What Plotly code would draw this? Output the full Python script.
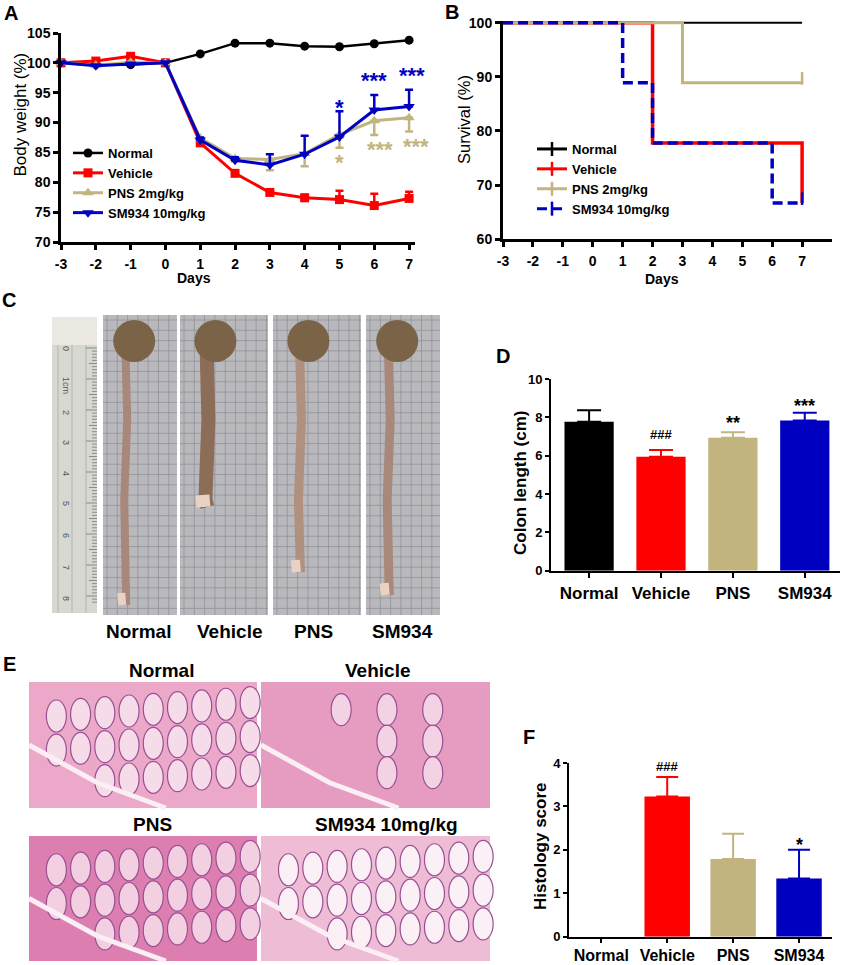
import plotly.graph_objects as go

W, H = 844, 965
def px(x): return x / W
def py(y): return 1 - y / H

FONT = "Arial, Liberation Sans, sans-serif"

# ---------------- Panel A data: body weight ----------------
days = [-3, -2, -1, 0, 1, 2, 3, 4, 5, 6, 7]
day_labels = ["-3", "-2", "-1", "0", "1", "2", "3", "4", "5", "6", "7"]
bw_normal = [100, 99.7, 99.7, 100, 101.5, 103.3, 103.3, 102.8, 102.7, 103.2, 103.8]
bw_vehicle = [100, 100.3, 101.1, 100, 86.6, 81.5, 78.3, 77.4, 77.1, 76.1, 77.3]
bw_vehicle_err = [0, 0, 0, 0, 0.4, 0.4, 0.4, 0.5, 1.5, 2.0, 1.1]
bw_pns = [100, 99.6, 100.1, 100, 87.4, 84.0, 83.8, 84.8, 88.0, 90.3, 90.8]
bw_pns_err = [0, 0, 0, 0, 0.4, 0.5, 1.8, 2.1, 2.2, 2.4, 2.3]
bw_sm = [100, 99.5, 99.8, 100, 87.1, 83.7, 82.9, 84.7, 87.6, 92.1, 92.7]
bw_sm_err = [0, 0, 0, 0, 0.4, 0.5, 1.8, 3.1, 4.3, 2.5, 2.8]

star_sm_days = [5, 6, 7]
star_sm_y = [93.3, 97.9, 98.8]
star_sm_text = ["*", "***", "***"]
star_pns_days = [5, 6, 7]
star_pns_y = [84.2, 86.4, 86.9]
star_pns_text = ["*", "***", "***"]

# ---------------- Panel B data: survival ----------------
surv_normal_x = [-3, 7]
surv_normal_y = [100, 100]
surv_vehicle_x = [-3, 2, 7]
surv_vehicle_y = [100, 77.8, 66.7]
surv_pns_x = [-3, 3, 7]
surv_pns_y = [100, 88.9, 88.9]
surv_sm_x = [-3, 1, 2, 6, 7]
surv_sm_y = [100, 88.9, 77.8, 66.7, 66.7]

# ---------------- Panel D / F data ----------------
groups = ["Normal", "Vehicle", "PNS", "SM934"]
colon_len = [7.77, 5.95, 6.94, 7.83]
colon_err = [0.6, 0.35, 0.28, 0.41]
colon_sig = ["", "###", "**", "***"]
colon_sig_y = [None, 7.08, 7.9, 8.82]

hist_score = [0, 3.23, 1.79, 1.34]
hist_err = [0, 0.45, 0.58, 0.66]
hist_sig = ["", "###", "", "*"]
hist_sig_y = [None, 3.92, None, 2.21]

series_names = ["Normal", "Vehicle", "PNS 2mg/kg", "SM934 10mg/kg"]
colors = ["#000000", "#ff0000", "#c2b47e", "#0000c0"]

fig = go.Figure()

# ---------- Panel A traces ----------
bw_series = [bw_normal, bw_vehicle, bw_pns, bw_sm]
bw_err_up = [None, bw_vehicle_err, None, bw_sm_err]
bw_err_dn = [None, None, bw_pns_err, None]
symbols = ["circle", "square", "triangle-up", "triangle-down"]
sizes = [9, 9, 10, 10]
for i in range(4):
    err = None
    if bw_err_up[i] is not None:
        err = dict(type="data", symmetric=False, array=bw_err_up[i],
                   arrayminus=[0] * len(days), color=colors[i], thickness=2.5, width=4)
    elif bw_err_dn[i] is not None:
        err = dict(type="data", symmetric=False, array=[0] * len(days),
                   arrayminus=bw_err_dn[i], color=colors[i], thickness=2.5, width=4)
    fig.add_trace(go.Scatter(
        x=days, y=bw_series[i], name=series_names[i], mode="lines+markers",
        line=dict(color=colors[i], width=3 if i else 2.5),
        marker=dict(symbol=symbols[i], size=sizes[i], color=colors[i]),
        error_y=err, cliponaxis=False, xaxis="x", yaxis="y", legend="legend"))

# ---------- Panel B traces ----------
surv = [(surv_normal_x, surv_normal_y), (surv_vehicle_x, surv_vehicle_y),
        (surv_pns_x, surv_pns_y), (surv_sm_x, surv_sm_y)]
widths_b = [2, 3.5, 3, 3.5]
dashes_b = ["solid", "solid", "solid", "10px,5px"]
for i, (sx, sy) in enumerate(surv):
    fig.add_trace(go.Scatter(
        x=sx, y=sy, mode="lines", line=dict(color=colors[i], width=widths_b[i],
                                            dash=dashes_b[i], shape="hv"),
        showlegend=False, xaxis="x2", yaxis="y2"))
# censor ticks
for i in [0, 2, 3]:
    sx, sy = surv[i]
    fig.add_trace(go.Scatter(
        x=[sx[-1]], y=[sy[-1] + 0.8], mode="markers",
        marker=dict(symbol="line-ns-open", size=9, color=colors[i],
                    line=dict(width=2.5, color=colors[i])),
        cliponaxis=False, showlegend=False, xaxis="x2", yaxis="y2"))
# legend entries for B
for i in range(4):
    fig.add_trace(go.Scatter(
        x=[None], y=[None], name=series_names[i], mode="lines+markers",
        line=dict(color=colors[i], width=3, dash=dashes_b[i]),
        marker=dict(symbol="line-ns-open", size=10, color=colors[i],
                    line=dict(width=2.5, color=colors[i])),
        xaxis="x2", yaxis="y2", legend="legend2"))

# ---------- Panel D / F bars ----------
for i, g in enumerate(groups):
    fig.add_trace(go.Bar(
        x=[g], y=[colon_len[i]], width=0.685, marker=dict(color=colors[i], line=dict(width=0)),
        error_y=dict(type="data", symmetric=False, array=[colon_err[i]], arrayminus=[0],
                     color=colors[i], thickness=2, width=12, visible=colon_err[i] > 0),
        showlegend=False, xaxis="x3", yaxis="y3"))
    fig.add_trace(go.Bar(
        x=[g], y=[hist_score[i]], width=0.69, marker=dict(color=colors[i], line=dict(width=0)),
        error_y=dict(type="data", symmetric=False, array=[hist_err[i]], arrayminus=[0],
                     color=colors[i], thickness=2, width=11, visible=hist_err[i] > 0),
        showlegend=False, xaxis="x4", yaxis="y4"))

annotations = []

def ann(x, y, text, size, bold=True, color="black", angle=0, xref="paper", yref="paper",
        xshift=0, yshift=0):
    annotations.append(dict(
        x=x, y=y, xref=xref, yref=yref, text=text, showarrow=False, textangle=angle,
        xanchor="center", yanchor="middle", xshift=xshift, yshift=yshift,
        font=dict(family=FONT, size=size, color=color, weight="bold" if bold else "normal")))

# significance stars in A
sm_xshift = [0, 0, 3]
pns_xshift = [0, 6, 7]
for d, yv, t, s in zip(star_sm_days, star_sm_y, star_sm_text, sm_xshift):
    ann(d, yv, t, 22, color=colors[3], xref="x", yref="y", xshift=s, yshift=-5)
for d, yv, t, s in zip(star_pns_days, star_pns_y, star_pns_text, pns_xshift):
    ann(d, yv, t, 22, color=colors[2], xref="x", yref="y", xshift=s, yshift=-5)

for g, t, yv in zip(groups, colon_sig, colon_sig_y):
    if t:
        ann(g, yv, t, 13 if "#" in t else 18, xref="x3", yref="y3",
            yshift=0 if "#" in t else -4)
for g, t, yv in zip(groups, hist_sig, hist_sig_y):
    if t:
        ann(g, yv, t, 13 if "#" in t else 18, xref="x4", yref="y4",
            yshift=0 if "#" in t else -4)

# axis titles
ann(px(20), py(114.5), "Body weight (%)", 17, bold=False, angle=-90)
ann(px(193.7), py(278), "Days", 14)
ann(px(464), py(120), "Survival (%)", 16.5, bold=False, angle=-90)
ann(px(661.7), py(279), "Days", 14)
ann(px(520), py(483), "Colon length (cm)", 17, angle=-90)
ann(px(540), py(846), "Histology score", 17, angle=-90)

# panel letters
for letter, (lx, ly) in {"A": (10.5, 13.5), "B": (452, 11.7), "C": (8.5, 300),
                         "D": (502.5, 355.5), "E": (9, 664), "F": (529, 736.5)}.items():
    ann(px(lx), py(ly), letter, 20)

# photo labels
for t, (lx, ly) in [("Normal", (138, 631)), ("Vehicle", (230, 631)), ("PNS", (313, 631)),
                    ("SM934", (402, 631)), ("Normal", (161, 670)), ("Vehicle", (378, 670)),
                    ("PNS", (152, 824)), ("SM934 10mg/kg", (386, 824))]:
    ann(px(lx), py(ly), t, 19)

# ruler numbers
for t, ry in [("0", 348), ("1cm", 385), ("2", 412), ("3", 442), ("4", 473), ("5", 503),
              ("6", 535), ("7", 567), ("8", 598)]:
    ann(px(66), py(ry), t, 9, bold=False, color="#555555", angle=90)

# ---------- photo placeholder shapes ----------
shapes = []
def rect(x0, y0, x1, y1, fill, line=None):
    shapes.append(dict(type="rect", xref="paper", yref="paper", x0=px(x0), x1=px(x1),
                       y0=py(y1), y1=py(y0), fillcolor=fill,
                       line=dict(width=0) if line is None else line, layer="above"))

def path(d_pts, color, width, fill=None):
    shapes.append(dict(type="path", xref="paper", yref="paper", path=d_pts,
                       line=dict(color=color, width=width),
                       fillcolor=fill if fill else "rgba(0,0,0,0)", layer="above"))

def P(x, y):
    return f"{px(x):.5f},{py(y):.5f}"

# ruler
rect(52, 317, 97, 613, "#d8d8d2")
rect(52, 317, 97, 345, "#ebe8e1")
segs = []
k = 0
yy = 348.0
while yy <= 604:
    ln = 11 if k % 10 == 0 else (8 if k % 5 == 0 else 5)
    segs.append(f"M{P(97 - ln, yy)} L{P(97, yy)}")
    yy += 3.1
    k += 1
path(" ".join(segs), "#555555", 0.6)
segs = []
for gx in [58, 72, 86]:
    segs.append(f"M{P(gx, 345)} L{P(gx, 613)}")
path(" ".join(segs), "#9a9a9a", 0.6)

# colon photos
colon_panels = [(103, 177, 605, 8, "#a8887a"), (180, 268, 507, 14, "#8c6e58"),
                (273, 361, 572, 9, "#b0907e"), (366, 440, 595, 9, "#a8887a")]
for x0, x1, bottom, tw, tube in colon_panels:
    rect(x0, 315, x1, 615, "#b9b9bd")
    segs = []
    gx = x0 + 4
    while gx < x1:
        segs.append(f"M{P(gx, 315)} L{P(gx, 615)}")
        gx += 10.3
    gy = 320
    while gy < 615:
        segs.append(f"M{P(x0, gy)} L{P(x1, gy)}")
        gy += 10.3
    path(" ".join(segs), "#8d8d95", 0.7)
    cx = x0 + 0.3 * (x1 - x0)
    path(f"M{P(cx, 340)} L{P(cx + 2, 420)} L{P(cx - 1, 500)} L{P(cx + 1, bottom)}", tube, tw)
    path(f"M{P(cx - 4, bottom - 12)} L{P(cx - 3, bottom)}", "#e8d2c4", tw)
    shapes.append(dict(type="circle", xref="paper", yref="paper",
                       x0=px(cx - 12), x1=px(cx + 30), y0=py(362), y1=py(320),
                       fillcolor="#7a6346", line=dict(width=0), layer="above"))

# histology photos
hist_panels = [(29, 257, 682, 808, "#eba8c9", "#f6dbe9", 9),
               (261, 490, 682, 808, "#e59cc0", "#f3d3e3", 3),
               (29, 257, 836, 961, "#dc7fb0", "#f2cfe1", 9),
               (261, 490, 836, 961, "#efbcd6", "#fbf0f5", 9)]
for x0, x1, y0, y1, base, inner, ncol in hist_panels:
    rect(x0, y0, x1, y1, base)
    w = x1 - x0
    h = y1 - y0
    for r in range(3):
        for c in range(ncol):
            if ncol == 3:
                cxp = x0 + 0.35 * w + c * 0.2 * w
                cyp = y0 + 0.22 * h + r * 0.25 * h
                if r > 0 and c == 0:
                    continue
            else:
                cxp = x0 + 0.12 * w + c * (0.85 * w / (ncol - 1)) * 1.0
                cyp = y0 + 0.15 * h + r * 0.27 * h + 0.12 * h * (1 - c / ncol)
            if (cxp - x0) / w * 0.9 + 0.05 < (cyp - y0) / h - 0.45:
                continue
            shapes.append(dict(type="circle", xref="paper", yref="paper",
                               x0=px(cxp - 10), x1=px(cxp + 10),
                               y0=py(cyp + 16), y1=py(cyp - 16),
                               fillcolor=inner, line=dict(color="#9a4f93", width=1.2),
                               layer="above"))
    path(f"M{P(x0, y0 + 0.5 * h)} L{P(x0 + 0.3 * w, y0 + 0.8 * h)} L{P(x0 + 0.6 * w, y1)}",
         "#fbeef4", 5)

axis_common = dict(showgrid=False, zeroline=False, showline=True, linecolor="black",
                   ticks="outside", tickcolor="black", mirror=False, automargin=False)
tick_font = dict(family=FONT, size=14, color="black", weight="bold")
big_tick = dict(family=FONT, size=17, color="black", weight="bold")
f_tick = dict(family=FONT, size=16, color="black", weight="bold")
small_tick = dict(family=FONT, size=13, color="black", weight="bold")
leg_font = dict(family=FONT, size=13, color="black", weight="bold")

fig.update_layout(
    template="none",
    width=W, height=H, margin=dict(l=0, r=0, t=0, b=0, pad=0, autoexpand=False),
    plot_bgcolor="white", paper_bgcolor="white", barmode="overlay",
    font=dict(family=FONT, color="black"),
    xaxis=dict(domain=[px(61), px(415)], range=[-3, 7.17], tickvals=days, ticktext=day_labels,
               linewidth=2.5, tickwidth=2.5, ticklen=5, tickfont=tick_font,
               ticklabelstandoff=2, anchor="y", **axis_common),
    yaxis=dict(domain=[py(242), py(33)], range=[70, 105], dtick=5,
               linewidth=2.5, tickwidth=2.5, ticklen=5, tickfont=tick_font,
               anchor="x", **axis_common),
    xaxis2=dict(domain=[px(503), px(832)], range=[-3, 8], tickvals=days, ticktext=day_labels,
                linewidth=3, tickwidth=2.5, ticklen=5, tickfont=tick_font,
                ticklabelstandoff=2, anchor="y2", **axis_common),
    yaxis2=dict(domain=[py(239.3), py(21)], range=[60, 100.3], tickvals=[60, 70, 80, 90, 100],
                linewidth=3, tickwidth=2.5, ticklen=5, tickfont=tick_font,
                anchor="x2", **axis_common),
    xaxis3=dict(domain=[px(551), px(840)], range=[-0.53, 3.49], type="category",
                categoryorder="array", categoryarray=groups,
                linewidth=2, tickwidth=2, ticklen=5, tickfont=big_tick,
                ticklabelstandoff=1, anchor="y3", **axis_common),
    yaxis3=dict(domain=[py(570.7), py(379)], range=[0, 10], dtick=2,
                linewidth=2, tickwidth=2, ticklen=4, tickfont=small_tick,
                anchor="x3", **axis_common),
    xaxis4=dict(domain=[px(569), px(832)], range=[-0.49, 3.5], type="category",
                categoryorder="array", categoryarray=groups,
                linewidth=2, tickwidth=2, ticklen=4, tickfont=f_tick,
                ticklabelstandoff=-1, anchor="y4", **axis_common),
    yaxis4=dict(domain=[py(936.7), py(763)], range=[0, 4], dtick=1,
                linewidth=2, tickwidth=2, ticklen=4, tickfont=small_tick,
                anchor="x4", **axis_common),
    legend=dict(x=px(68), y=py(138), xanchor="left", yanchor="top",
                bgcolor="rgba(0,0,0,0)", borderwidth=0, tracegroupgap=0, font=leg_font),
    legend2=dict(x=px(532), y=py(134), xanchor="left", yanchor="top",
                 bgcolor="rgba(0,0,0,0)", borderwidth=0, tracegroupgap=0, font=leg_font),
    annotations=annotations,
    shapes=shapes,
)

fig.write_html(
    "out.html",
    config={"displayModeBar": False},
    post_script="document.body.style.margin='0px';document.body.style.padding='0px';"
                "document.documentElement.style.overflow='hidden';",
)
